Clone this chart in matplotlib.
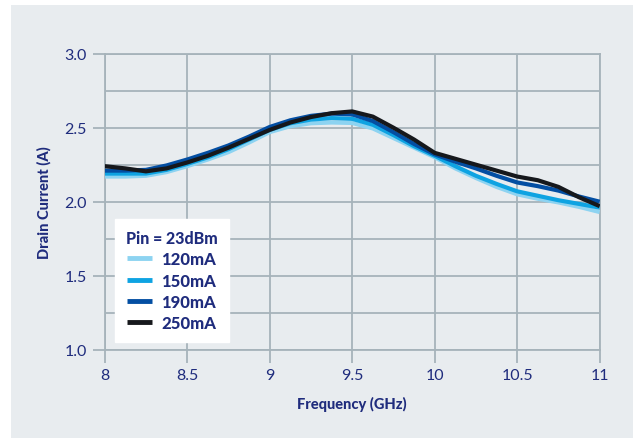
import matplotlib
matplotlib.use("Agg")
import matplotlib.pyplot as plt
from matplotlib.patches import Rectangle

# Frequency points (GHz)
freq = [8.0, 8.125, 8.25, 8.375, 8.5, 8.625, 8.75, 8.875, 9.0, 9.125, 9.25, 9.375,
        9.5, 9.625, 9.75, 9.875, 10.0, 10.125, 10.25, 10.375, 10.5, 10.625, 10.75,
        10.875, 11.0]

# Drain current (A) per quiescent bias
i_120 = [2.17, 2.17, 2.175, 2.20, 2.24, 2.285, 2.335, 2.40, 2.47, 2.51, 2.53, 2.535,
         2.532, 2.495, 2.43, 2.365, 2.30, 2.225, 2.16, 2.10, 2.05, 2.02, 1.995, 1.965, 1.93]
i_150 = [2.19, 2.19, 2.19, 2.215, 2.255, 2.30, 2.355, 2.42, 2.485, 2.53, 2.555, 2.565,
         2.56, 2.52, 2.45, 2.375, 2.31, 2.24, 2.175, 2.12, 2.07, 2.04, 2.01, 1.985, 1.96]
i_190 = [2.21, 2.21, 2.215, 2.245, 2.285, 2.33, 2.38, 2.44, 2.505, 2.55, 2.58, 2.595,
         2.59, 2.545, 2.47, 2.39, 2.32, 2.27, 2.225, 2.175, 2.13, 2.105, 2.075, 2.035, 2.0]
i_250 = [2.24, 2.225, 2.205, 2.225, 2.265, 2.31, 2.365, 2.425, 2.485, 2.535, 2.572, 2.598,
         2.61, 2.575, 2.50, 2.42, 2.33, 2.29, 2.25, 2.21, 2.17, 2.145, 2.10, 2.03, 1.97]

labels = ["120mA", "150mA", "190mA", "250mA"]
colors = ["#8dd3f1", "#0ea3e2", "#034ea2", "#16181c"]

navy = "#1f2c7d"
panel = "#e8ecef"
gridc = "#a6b3ba"

plt.rcParams["font.family"] = ["Lato", "DejaVu Sans"]

fig = plt.figure(figsize=(6.33, 4.39), dpi=100)
fig.patch.set_facecolor("white")
fig.patches.append(Rectangle((11 / 633, 0), 1 - 11 / 633, 1 - 6 / 439,
                             transform=fig.transFigure, facecolor=panel,
                             edgecolor="none", zorder=-5))

ax = fig.add_axes([104.7 / 633, 1 - 350.7 / 439, 495 / 633, 296 / 439])
ax.set_zorder(2)
ax.set_facecolor(panel)

for y, lab, c in zip([i_120, i_150, i_190, i_250], labels, colors):
    ax.plot(freq, y, color=c, lw=3.0, label=lab, solid_capstyle="butt",
            solid_joinstyle="round", zorder=3)

ax.set_xlim(8, 11)
ax.set_ylim(1.0, 3.0)
ax.set_xticks([8, 8.5, 9, 9.5, 10, 10.5, 11])
ax.set_xticklabels(["8", "8.5", "9", "9.5", "10", "10.5", "11"])
ax.set_yticks([1.0, 1.5, 2.0, 2.5, 3.0])
ax.set_yticklabels(["1.0", "1.5", "2.0", "2.5", "3.0"])
ax.set_yticks([1.25, 1.75, 2.25, 2.75], minor=True)
ax.tick_params(axis="y", which="minor", length=0)
ax.grid(True, which="both", color=gridc, lw=1.3, zorder=1)
ax.tick_params(which="major", length=9, width=1.3, color=gridc, labelcolor=navy,
               labelsize=11.5, pad=4)
for s in ax.spines.values():
    s.set_color(gridc)
    s.set_linewidth(1.3)

ax.set_xlabel("Frequency (GHz)", color=navy, fontsize=10.5, fontweight="black", labelpad=10)
ax.set_ylabel("Drain Current (A)", color=navy, fontsize=10.5, fontweight="black", labelpad=9)

leg = ax.legend(title="Pin = 23dBm", loc="lower left", bbox_to_anchor=(0.021, 0.026),
                borderaxespad=0, frameon=True, fancybox=False, framealpha=1,
                edgecolor="white", handlelength=1.5, handletextpad=0.55,
                labelspacing=0.32, borderpad=0.65, prop={"weight": "black", "size": 12})
leg.get_title().set_color(navy)
leg.get_title().set_fontweight("black")
leg.get_title().set_fontsize(11.5)
for t in leg.get_texts():
    t.set_color(navy)
for h in leg.get_lines():
    h.set_linewidth(3.5)

fig.savefig("out.png", dpi=100)
